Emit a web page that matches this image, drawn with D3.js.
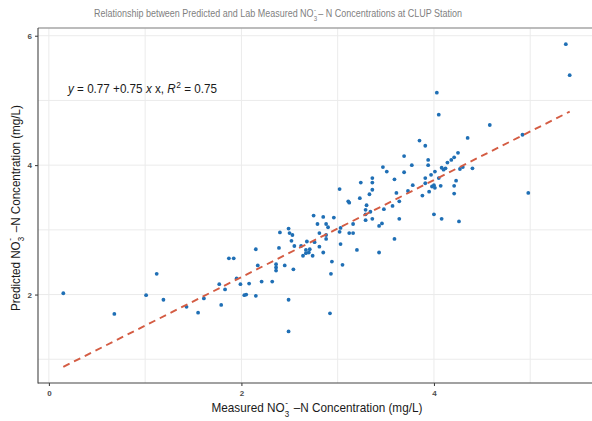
<!DOCTYPE html>
<html>
<head>
<meta charset="utf-8">
<script src="https://cdn.jsdelivr.net/npm/d3@7"></script>
<style>
  html, body { margin: 0; padding: 0; background: #fff; }
  svg { display: block; }
  svg text { white-space: pre; }
</style>
</head>
<body>
<svg id="chart" width="592" height="421"></svg>
<script>
// Lab-measured vs predicted NO3- - N concentrations (mg/L), CLUP station
const measured = [
  0.15, 0.68, 1.01, 1.12, 1.19, 1.43, 1.55, 1.61, 1.77, 1.79,
  1.83, 1.87, 1.92, 1.95, 1.99, 2.03, 2.05, 2.08, 2.15, 2.17,
  2.15, 2.21, 2.32, 2.36, 2.36, 2.36, 2.39, 2.40, 2.45, 2.49,
  2.50, 2.53, 2.52, 2.55, 2.54, 2.49, 2.49, 2.62, 2.64, 2.67,
  2.68, 2.67, 2.70, 2.71, 2.74, 2.75, 2.76, 2.79, 2.81, 2.81,
  2.85, 2.88, 2.88, 2.88, 2.90, 2.85, 2.94, 2.93, 2.92, 2.96,
  3.02, 3.03, 3.02, 3.03, 3.05, 3.11, 3.12, 3.12, 3.16, 3.16,
  3.20, 3.23, 3.24, 3.30, 3.29, 3.33, 3.36, 3.36, 3.29, 3.34,
  3.29, 3.36, 3.43, 3.43, 3.36, 3.47, 3.51, 3.59, 3.61, 3.69,
  3.69, 3.73, 3.77, 3.78, 3.85, 3.91, 3.88, 3.91, 3.91, 3.94,
  3.94, 3.95, 3.97, 3.98, 4.00, 4.01, 4.01, 4.03, 4.05, 4.05,
  4.07, 4.08, 4.10, 4.12, 4.14, 4.18, 4.21, 4.25, 4.27, 4.30,
  4.35, 4.40, 4.23, 4.21, 4.21, 3.64, 3.57, 3.48, 3.64, 3.46,
  3.59, 4.00, 4.08, 4.26, 4.58, 4.92, 4.98, 5.37, 5.41
];
const predicted = [
  2.02, 1.70, 1.99, 2.32, 1.92, 1.81, 1.72, 1.94, 2.16, 1.84,
  2.08, 2.56, 2.56, 2.25, 2.16, 1.99, 2.00, 2.17, 2.70, 2.45,
  1.98, 2.20, 2.20, 2.47, 2.42, 2.37, 2.72, 2.96, 2.45, 3.02,
  2.95, 2.92, 2.83, 2.75, 2.39, 1.92, 1.43, 2.75, 2.60, 2.69,
  2.82, 2.64, 2.65, 2.70, 2.60, 3.22, 2.81, 3.09, 2.95, 2.74,
  3.20, 3.09, 2.92, 2.86, 3.04, 2.65, 2.51, 2.32, 1.71, 3.19,
  3.63, 3.03, 2.97, 2.78, 2.46, 3.44, 3.42, 2.95, 2.95, 3.09,
  2.69, 3.49, 3.73, 3.38, 3.31, 3.55, 3.73, 3.62, 3.24, 3.28,
  3.15, 3.17, 3.06, 2.65, 3.80, 3.97, 3.90, 3.78, 3.57, 4.14,
  3.89, 3.60, 4.00, 3.69, 4.38, 4.30, 3.53, 3.80, 3.72, 4.08,
  4.00, 3.59, 3.85, 3.67, 3.69, 3.65, 3.90, 5.12, 4.78, 3.80,
  3.68, 3.96, 3.93, 3.95, 4.04, 4.08, 4.12, 4.19, 3.94, 3.97,
  4.42, 3.95, 3.76, 3.68, 3.56, 3.44, 3.37, 3.32, 3.17, 3.10,
  2.86, 3.24, 3.17, 3.13, 4.62, 4.47, 3.57, 5.87, 5.39
];

// Fitted linear model shown in the annotation
const intercept = 0.77;
const slope = 0.75;
const rSquared = 0.75;

const xTicks = [0, 2, 4];
const yTicks = [2, 4, 6];
const xGrid = [0, 1, 2, 3, 4, 5];
const yGrid = [1, 2, 3, 4, 5, 6];

const svg = d3.select("#chart");
const W = 592;
const panel = { left: 38, right: 595, top: 28, bottom: 383 };

const points = measured.map((m, i) => ({ m, p: predicted[i] }));
const xMin = d3.min(measured), xMax = d3.max(measured);
const fitLine = [xMin, xMax].map(v => ({ m: v, p: intercept + slope * v }));

// ggplot-style 5% expansion around the data
const yLo = Math.min(d3.min(predicted), d3.min(fitLine, d => d.p));
const yHi = Math.max(d3.max(predicted), d3.max(fitLine, d => d.p));
const xPad = (xMax - xMin) * 0.05, yPad = (yHi - yLo) * 0.05;

const x = d3.scaleLinear().domain([xMin - xPad, xMax + xPad]).range([panel.left, panel.right]);
const y = d3.scaleLinear().domain([yLo - yPad, yHi + yPad]).range([panel.bottom, panel.top]);

const sansFont = "'Liberation Sans', Arial, sans-serif";
const narrowFont = "'Liberation Sans Narrow', 'Liberation Sans', Arial, sans-serif";

// grid
const grid = svg.append("g");
grid.selectAll("line.gx").data(xGrid).join("line")
  .attr("x1", d => x(d)).attr("x2", d => x(d))
  .attr("y1", panel.top).attr("y2", panel.bottom)
  .attr("stroke", "#ebebeb").attr("stroke-width", 1);
grid.selectAll("line.gy").data(yGrid).join("line")
  .attr("x1", panel.left).attr("x2", W)
  .attr("y1", d => y(d)).attr("y2", d => y(d))
  .attr("stroke", "#ebebeb").attr("stroke-width", 1);

// top frame line
svg.append("line")
  .attr("x1", panel.left).attr("x2", W)
  .attr("y1", panel.top).attr("y2", panel.top)
  .attr("stroke", "#a6a6a6").attr("stroke-width", 1.6);

// axes
const xAxis = d3.axisBottom(x).tickValues(xTicks).tickSize(3).tickPadding(4).tickFormat(d3.format("d"));
const yAxis = d3.axisLeft(y).tickValues(yTicks).tickSize(3).tickPadding(3).tickFormat(d3.format("d"));

const gx = svg.append("g").attr("transform", `translate(0,${panel.bottom})`).call(xAxis);
const gy = svg.append("g").attr("transform", `translate(${panel.left},0)`).call(yAxis);
[gx, gy].forEach(g => {
  g.select(".domain").remove();
  g.selectAll(".tick line").attr("stroke", "#333").attr("stroke-width", 1);
  g.selectAll(".tick text")
    .attr("font-family", sansFont).attr("font-size", 8)
    .attr("font-weight", "bold").attr("fill", "#4d4d4d");
});
svg.append("line")
  .attr("x1", panel.left).attr("x2", panel.left)
  .attr("y1", panel.top).attr("y2", panel.bottom + 0.5)
  .attr("stroke", "#444").attr("stroke-width", 1.1);
svg.append("line")
  .attr("x1", panel.left).attr("x2", W)
  .attr("y1", panel.bottom).attr("y2", panel.bottom)
  .attr("stroke", "#444").attr("stroke-width", 1.1);

// points
svg.append("g").selectAll("circle").data(points).join("circle")
  .attr("cx", d => x(d.m)).attr("cy", d => y(d.p))
  .attr("r", 1.9)
  .attr("fill", "#1f6fb5");

// fitted regression line
svg.append("path")
  .datum(fitLine)
  .attr("d", d3.line().x(d => x(d.m)).y(d => y(d.p)))
  .attr("fill", "none")
  .attr("stroke", "#d45c43")
  .attr("stroke-width", 1.9)
  .attr("stroke-dasharray", "7,5");

// Rich text in one <text> element: plain/italic runs, superscripts, and
// stacked superscript-over-subscript pairs sharing one horizontal slot.
function richText(parent, parts, opts) {
  const g = parent.append("g");
  const text = g.append("text")
    .attr("font-family", opts.font)
    .attr("fill", opts.color)
    .style("white-space", "pre");
  const base = opts.size;
  const run = (txt, px, py, size, italic) => text.append("tspan")
    .attr("x", px).attr("y", py)
    .attr("font-size", size)
    .attr("font-style", italic ? "italic" : "normal")
    .text(txt);
  let cx = 0;
  parts.forEach(p => {
    if (p.stack) {
      const small = base * 0.68;
      const a = run(p.stack[0], cx + 0.5, -base * 0.52, small, false);
      const b = run(p.stack[1], cx, base * 0.37, small, false);
      cx += Math.max(a.node().getComputedTextLength(), b.node().getComputedTextLength()) + 1.5;
    } else if (p.sup) {
      const t = run(p.sup, cx + 0.5, -base * 0.42, base * 0.72, false);
      cx += t.node().getComputedTextLength() + 0.5;
    } else {
      const t = run(p.t, cx, 0, base, p.it);
      cx += t.node().getComputedTextLength();
    }
  });
  const sx = opts.width ? opts.width / cx : 1;
  const w = cx * sx;
  const offset = opts.anchor === "middle" ? -w / 2 : 0;
  text.attr("transform", `translate(${offset},0) scale(${sx},1)`);
  g.attr("transform", `translate(${opts.x},${opts.y})${opts.rotate ? ` rotate(${opts.rotate})` : ""}`);
  return g;
}

// title
richText(svg, [
  { t: "Relationship between Predicted and Lab Measured NO" },
  { stack: ["-", "3"] },
  { t: "\u2013 N Concentrations at CLUP Station" }
], { x: 94, y: 17, size: 10.5, font: narrowFont, color: "#7f7f7f", width: 368 });

// axis titles
richText(svg, [
  { t: "Measured NO" },
  { stack: ["-", "3"] },
  { t: " \u2013N Concentration (mg/L)" }
], { x: 317, y: 412, size: 12.5, font: sansFont, color: "#1a1a1a", anchor: "middle", width: 211 });

richText(svg, [
  { t: "Predicted NO" },
  { stack: ["-", "3"] },
  { t: " \u2013N Concentration (mg/L)" }
], { x: 19.5, y: 208, size: 12.5, font: sansFont, color: "#1a1a1a", anchor: "middle", rotate: -90, width: 206 });

// regression annotation
richText(svg, [
  { t: "y", it: true },
  { t: " = " + intercept.toFixed(2) + " +" + slope.toFixed(2) + " " },
  { t: "x", it: true },
  { t: " x, " },
  { t: "R", it: true },
  { sup: "2" },
  { t: " = " + rSquared.toFixed(2) }
], { x: 68, y: 93, size: 12.5, font: sansFont, color: "#1a1a1a", width: 149 });
</script>
</body>
</html>
